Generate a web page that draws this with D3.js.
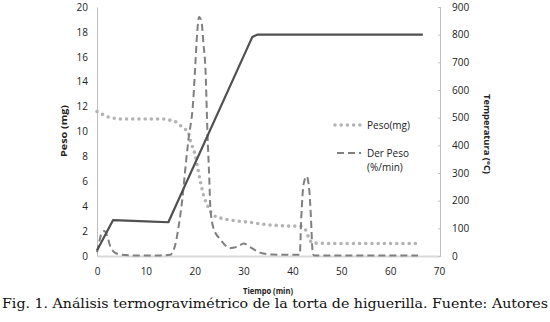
<!DOCTYPE html>
<html><head><meta charset="utf-8">
<script src="https://cdn.jsdelivr.net/npm/d3@7"></script>
<style>body{margin:0;background:#fff}svg{display:block}</style>
</head><body>
<svg id="c" width="550" height="322"></svg>
<script>
// Peso (mg) — dotted, left axis
const pesoT = [0,1,2,3,5,8,10,12,14,15,16,17,18,18.7,19.1,19.6,20.1,20.6,21.1,21.8,22.8,23.8,25.3,27,29,31.4,34,37,39.6,41.7,42.7,43.3,44.1,46,50,55,60,65.3];
const pesoV = [11.6,11.4,11.2,11.1,11.0,11.0,11.0,11.0,11.0,10.9,10.8,10.5,10.2,9.9,9.3,8.7,8.1,7.1,6.1,4.9,3.9,3.3,3.05,2.9,2.8,2.7,2.55,2.45,2.4,2.4,2.1,1.5,1.05,1.02,1.0,1.0,1.0,1.0];
// Der Peso (%/min) — dashed, left axis
const derT = [0,0.5,1,1.5,2,2.7,3.3,4,5,7,10,13,15,15.6,16.2,16.6,17.5,18.1,18.7,19.7,20.1,20.5,20.9,21.4,21.8,22.2,22.6,23.0,23.2,23.8,25.3,27.3,29,30,31.4,33.5,36,39,41.5,41.8,42.3,42.9,43.4,43.8,44.1,44.4,47,55,65.7];
const derV = [0.3,1.2,1.9,2.0,1.7,0.8,0.4,0.2,0.1,0.05,0.05,0.05,0.1,0.4,1.2,2.1,4.7,7.1,9.3,12.5,15.2,17.9,19.2,18.8,17,15,10,6,3.9,2.3,1.3,0.64,0.8,1.0,0.7,0.25,0.12,0.1,0.1,3,5.8,6.4,5.5,3,0.5,0.05,0.05,0.05,0.05];
// Temperatura (°C) — solid, right axis
const tempT = [0,3.3,10,14.6,31.8,32.8,66.7];
const tempV = [20,130,125,122,792,800,800];

const leftTicks = [0,2,4,6,8,10,12,14,16,18,20];
const rightTicks = [0,100,200,300,400,500,600,700,800,900];
const xTicks = [0,10,20,30,40,50,60,70];

const svg = d3.select('#c');
const font = "'Open Sans', 'Liberation Sans', sans-serif";
const x = d3.scaleLinear().domain([0,70]).range([97,439]);
const yL = d3.scaleLinear().domain([0,20]).range([256,7]);
const yR = d3.scaleLinear().domain([0,900]).range([256,7]);

// axes
const gL = svg.append('g').attr('transform','translate(97,0)')
  .call(d3.axisLeft(yL).tickValues(leftTicks).tickSize(0).tickPadding(9).tickFormat(d3.format('d')));
gL.select('.domain').attr('stroke','#bfbfbf').attr('stroke-width',1);

const gB = svg.append('g').attr('transform','translate(0,256)')
  .call(d3.axisBottom(x).tickValues(xTicks).tickSize(0).tickPadding(12).tickFormat(d3.format('d')));
gB.select('.domain').attr('stroke','#d9d9d9').attr('stroke-width',2);

const gR = svg.append('g').attr('transform','translate(440,0)')
  .call(d3.axisRight(yR).tickValues(rightTicks).tickSizeInner(-3).tickSizeOuter(0).tickPadding(12).tickFormat(d3.format('d')));
gR.select('.domain').attr('stroke','#bfbfbf').attr('stroke-width',1);
gR.selectAll('.tick line').attr('stroke','#bfbfbf').attr('x1',1).attr('x2',-2);

svg.selectAll('.tick text').attr('font-family',font).attr('font-size','10px').attr('fill','#222');

// lines
const mk = (T,V,y,curve) => d3.line().x((d,i)=>x(T[i])).y((d,i)=>y(V[i])).curve(curve)(V);

svg.append('path').attr('d', mk(pesoT,pesoV,yL,d3.curveMonotoneX))
  .attr('fill','none').attr('stroke','#b3b3b3').attr('stroke-width',3.6)
  .attr('stroke-linecap','round').attr('stroke-dasharray','0,6.2');

svg.append('path').attr('d', mk(derT,derV,yL,d3.curveMonotoneX))
  .attr('fill','none').attr('stroke','#808080').attr('stroke-width',2)
  .attr('stroke-dasharray','7,4');

svg.append('path').attr('d', mk(tempT,tempV,yR,d3.curveLinear))
  .attr('fill','none').attr('stroke','#505050').attr('stroke-width',2.2)
  .attr('stroke-linejoin','round');

// legend
svg.append('line').attr('x1',335).attr('x2',363).attr('y1',125).attr('y2',125)
  .attr('stroke','#b3b3b3').attr('stroke-width',3.6).attr('stroke-linecap','round').attr('stroke-dasharray','0,6.2');
svg.append('text').attr('x',367).attr('y',128.5).text('Peso(mg)')
  .attr('font-family',font).attr('font-size','10px').attr('fill','#222');
svg.append('line').attr('x1',337).attr('x2',361).attr('y1',153).attr('y2',153)
  .attr('stroke','#808080').attr('stroke-width',2).attr('stroke-dasharray','7,4');
svg.append('text').attr('x',367).attr('y',156.5).text('Der Peso')
  .attr('font-family',font).attr('font-size','10px').attr('fill','#222');
svg.append('text').attr('x',367).attr('y',170.5).text('(%/min)')
  .attr('font-family',font).attr('font-size','10px').attr('fill','#222');

// axis titles
svg.append('text').attr('transform','translate(67,131) rotate(-90)').attr('text-anchor','middle')
  .attr('font-family',font).attr('font-size','9px').attr('font-weight','bold').attr('fill','#222')
  .attr('textLength',52).attr('lengthAdjust','spacingAndGlyphs').text('Peso (mg)');
svg.append('text').attr('transform','translate(484,134) rotate(90)').attr('text-anchor','middle')
  .attr('font-family',font).attr('font-size','9px').attr('font-weight','bold').attr('fill','#222')
  .attr('textLength',80).attr('lengthAdjust','spacingAndGlyphs').text('Temperatura  (°C)');
svg.append('text').attr('x',268).attr('y',294).attr('text-anchor','middle')
  .attr('font-family',font).attr('font-size','9px').attr('font-weight','bold').attr('fill','#222')
  .attr('textLength',50).attr('lengthAdjust','spacingAndGlyphs').text('Tiempo (min)');

// caption
svg.append('text').attr('x',2).attr('y',308)
  .attr('font-family',"'DejaVu Serif', serif").attr('font-size','13px').attr('fill','#111')
  .attr('textLength',546).attr('lengthAdjust','spacingAndGlyphs')
  .text('Fig. 1. Análisis termogravimétrico de la torta de higuerilla. Fuente: Autores');
</script>
</body></html>
